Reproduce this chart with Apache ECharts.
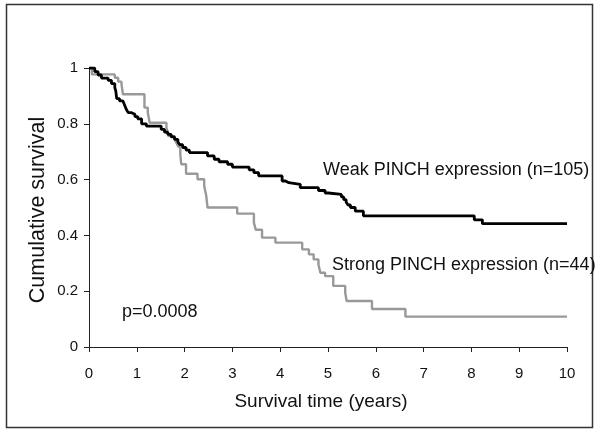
<!DOCTYPE html>
<html>
<head>
<meta charset="utf-8">
<script src="https://cdn.jsdelivr.net/npm/echarts@6/dist/echarts.min.js"></script>
<style>
html,body{margin:0;padding:0;background:#fff;}
#chart{width:600px;height:434px;}
</style>
</head>
<body>
<div id="chart"></div>
<script>
// Kaplan-Meier step data: [time (years), survival level from that time on]
var weakTimes = [0,0.12,0.19,0.26,0.4,0.47,0.54,0.56,0.58,0.64,0.71,0.75,0.78,0.82,0.89,0.96,1.02,1.1,1.2,1.51,1.58,1.65,1.72,1.79,1.86,1.9,1.96,2.03,2.1,2.48,2.62,2.72,2.9,3.0,3.35,3.45,3.55,4.04,4.11,4.18,4.42,4.8,4.94,5.01,5.28,5.33,5.38,5.42,5.47,5.57,5.74,8.06,8.23,10];
var weakSurv  = [1,0.987,0.975,0.964,0.956,0.944,0.93,0.918,0.89,0.882,0.875,0.865,0.852,0.84,0.834,0.826,0.818,0.80,0.792,0.78,0.77,0.762,0.753,0.744,0.735,0.725,0.715,0.706,0.697,0.685,0.673,0.664,0.655,0.645,0.635,0.625,0.613,0.595,0.589,0.583,0.571,0.561,0.552,0.547,0.538,0.528,0.519,0.509,0.50,0.487,0.47,0.456,0.442,0.442];

var strongTimes = [0,0.06,0.54,0.61,0.68,0.71,1.16,1.23,1.27,1.62,1.64,1.66,1.79,1.82,1.86,1.89,1.91,1.93,2.03,2.27,2.41,2.45,2.48,3.1,3.45,3.49,3.62,3.9,4.46,4.6,4.7,4.8,4.84,4.94,5.11,5.36,5.39,5.92,6.62,10];
var strongSurv  = [1,0.977,0.965,0.951,0.942,0.906,0.858,0.84,0.804,0.786,0.774,0.756,0.744,0.735,0.72,0.714,0.69,0.655,0.621,0.601,0.577,0.545,0.50,0.478,0.445,0.42,0.392,0.374,0.35,0.332,0.314,0.296,0.266,0.254,0.219,0.195,0.165,0.136,0.109,0.109];

var xTicks = [0,1,2,3,4,5,6,7,8,9,10];
var yTicks = [0,0.2,0.4,0.6,0.8,1];

var labels = {
  weak: 'Weak PINCH expression (n=105)',
  strong: 'Strong PINCH expression (n=44)',
  p: 'p=0.0008',
  xName: 'Survival time (years)',
  yName: 'Cumulative survival'
};

function pairs(t, s){ return t.map(function(v,i){ return [v, s[i]]; }); }

var FONT = '"Liberation Sans", Arial, sans-serif';
var chart = echarts.init(document.getElementById('chart'), null, {renderer:'canvas'});
chart.setOption({
  animation: false,
  backgroundColor: '#fff',
  grid: {left: 89, right: 33, top: 68, bottom: 87, containLabel: false},
  xAxis: {
    type: 'value', min: 0, max: 10, interval: 1,
    axisLine: {show: true, lineStyle: {color: '#222', width: 1}},
    axisTick: {show: true, length: 5, inside: false, lineStyle: {color: '#222'}},
    axisLabel: {color: '#111', fontSize: 15, fontFamily: FONT, margin: 19,
      formatter: function(v){ return xTicks.indexOf(v) >= 0 ? String(v) : ''; }},
    splitLine: {show: false}
  },
  yAxis: {
    type: 'value', min: 0, max: 1, interval: 0.2,
    axisLine: {show: true, lineStyle: {color: '#222', width: 1}},
    axisTick: {show: true, length: 5, inside: false, lineStyle: {color: '#222'}},
    axisLabel: {color: '#111', fontSize: 15, fontFamily: FONT, margin: 11,
      formatter: function(v){ var r = Math.round(v*10)/10; return yTicks.indexOf(r) >= 0 ? String(r) : ''; }},
    splitLine: {show: false}
  },
  series: [
    {
      name: 'Weak', type: 'line', step: 'end', data: pairs(weakTimes, weakSurv),
      showSymbol: false, lineStyle: {color: '#000', width: 2.8}, z: 3
    },
    {
      name: 'Strong', type: 'line', step: 'end', data: pairs(strongTimes, strongSurv),
      showSymbol: false, lineStyle: {color: '#999', width: 2.4}, z: 2
    }
  ],
  graphic: [
    {type: 'rect', shape: {x: 6.5, y: 4.5, width: 586, height: 423},
      style: {fill: 'none', stroke: '#333', lineWidth: 1.5}, silent: true},
    {type: 'text', left: 323, top: 161, style: {text: labels.weak, font: '18px ' + FONT, fill: '#111'}},
    {type: 'text', left: 332, top: 256, style: {text: labels.strong, font: '18px ' + FONT, fill: '#111'}},
    {type: 'text', left: 122, top: 303, style: {text: labels.p, font: '18px ' + FONT, fill: '#111'}},
    {type: 'text', x: 321, y: 402, style: {text: labels.xName, font: '19px ' + FONT, fill: '#111', textAlign: 'center', textVerticalAlign: 'middle'}},
    {type: 'text', x: 38, y: 210, rotation: Math.PI/2, style: {text: labels.yName, font: '21.5px ' + FONT, fill: '#111', textAlign: 'center', textVerticalAlign: 'middle'}}
  ]
});
</script>
</body>
</html>
